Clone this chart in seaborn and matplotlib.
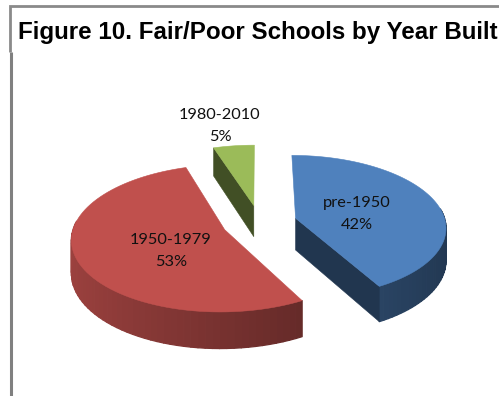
import numpy as np
import seaborn as sns
import matplotlib
matplotlib.use("Agg")
import matplotlib.pyplot as plt
from matplotlib.collections import PolyCollection

# Share of fair/poor schools by construction period
periods = ["pre-1950", "1950-1979", "1980-2010"]
shares = [42, 53, 5]
top_colors = ["#4f81bd", "#c0504d", "#9bbb59"]
label_xy = [(357, 214), (171, 251), (220, 126)]

sns.set_theme(style="white")
palette = sns.color_palette(top_colors)

W, H = 499, 396
fig = plt.figure(figsize=(W / 100, H / 100), dpi=100)
ax = fig.add_axes([0, 0, 1, 1])
ax.set_xlim(0, W)
ax.set_ylim(H, 0)
ax.axis("off")

# Projection of the tilted disc, in pixels
CX, CY = 259.5, 222.6
RX, RY = 150, 71
PERSP = 0.115
DEPTH = 32
EXPLODE = 0.25


def project(x, y, z=0.0):
    s = 1 / (1 + PERSP * y)
    return CX + RX * x * s, CY - RY * y * s + z * DEPTH * s


def wall_shade(angle):
    # Side walls darken from the left of the pie to the right
    return 0.62 - 0.19 * np.sin(angle)


def darker(color, f):
    return tuple(c * f for c in color)


start = 0.0
for share, color, name, (lx, ly) in zip(shares, palette, periods, label_xy):
    sweep = share / sum(shares) * 2 * np.pi
    mid = start + sweep / 2
    ox, oy = EXPLODE * np.sin(mid), EXPLODE * np.cos(mid)
    angles = np.linspace(start, start + sweep, 80)
    rim_x = ox + np.sin(angles)
    rim_y = oy + np.cos(angles)

    # Outer wall, only where the rim faces the viewer
    quads, shades = [], []
    for a0, a1 in zip(angles[:-1], angles[1:]):
        if np.cos((a0 + a1) / 2) < 0.12:
            x0, y0 = ox + np.sin(a0), oy + np.cos(a0)
            x1, y1 = ox + np.sin(a1), oy + np.cos(a1)
            quads.append([project(x0, y0), project(x1, y1), project(x1, y1, 1), project(x0, y0, 1)])
            shades.append(darker(color, wall_shade((a0 + a1) / 2)))
    wall = PolyCollection(quads, facecolors=shades, edgecolors=shades, linewidths=0.9, zorder=2)
    ax.add_collection(wall)

    # Cut faces along the radii that turn toward the viewer
    for edge, visible in ((start + sweep, np.sin(start + sweep) > 0), (start, np.sin(start) < 0)):
        if visible:
            ex, ey = ox + np.sin(edge), oy + np.cos(edge)
            quad = [project(ox, oy), project(ex, ey), project(ex, ey, 1), project(ox, oy, 1)]
            ax.fill(*zip(*quad), color=darker(color, 0.42), lw=0.4, zorder=2)

    # Top surface
    outline = [project(ox, oy)] + [project(x, y) for x, y in zip(rim_x, rim_y)]
    ax.fill(*zip(*outline), color=color, lw=0.4, zorder=3)

    ax.text(lx, ly, f"{name}\n{share}%", ha="center", va="center", fontsize=11.8,
            family="Lato", color="#111111", linespacing=1.7, zorder=5)
    start += sweep

# Chart frame, open at the right and bottom edges
ax.plot([11, 11], [H, 52], color="#808080", lw=2.2, solid_capstyle="butt", zorder=1)
ax.plot([10, 10, W], [52, 6.3, 6.3], color="#8a8a8a", lw=2.0, solid_joinstyle="miter",
        solid_capstyle="butt", zorder=1)

ax.text(18, 32.5, "Figure 10. Fair/Poor Schools by Year Built", ha="left", va="center",
        fontsize=17.4, fontweight="bold", family="Liberation Sans", color="black", zorder=6)

fig.savefig("out.png", dpi=100, facecolor="white")
